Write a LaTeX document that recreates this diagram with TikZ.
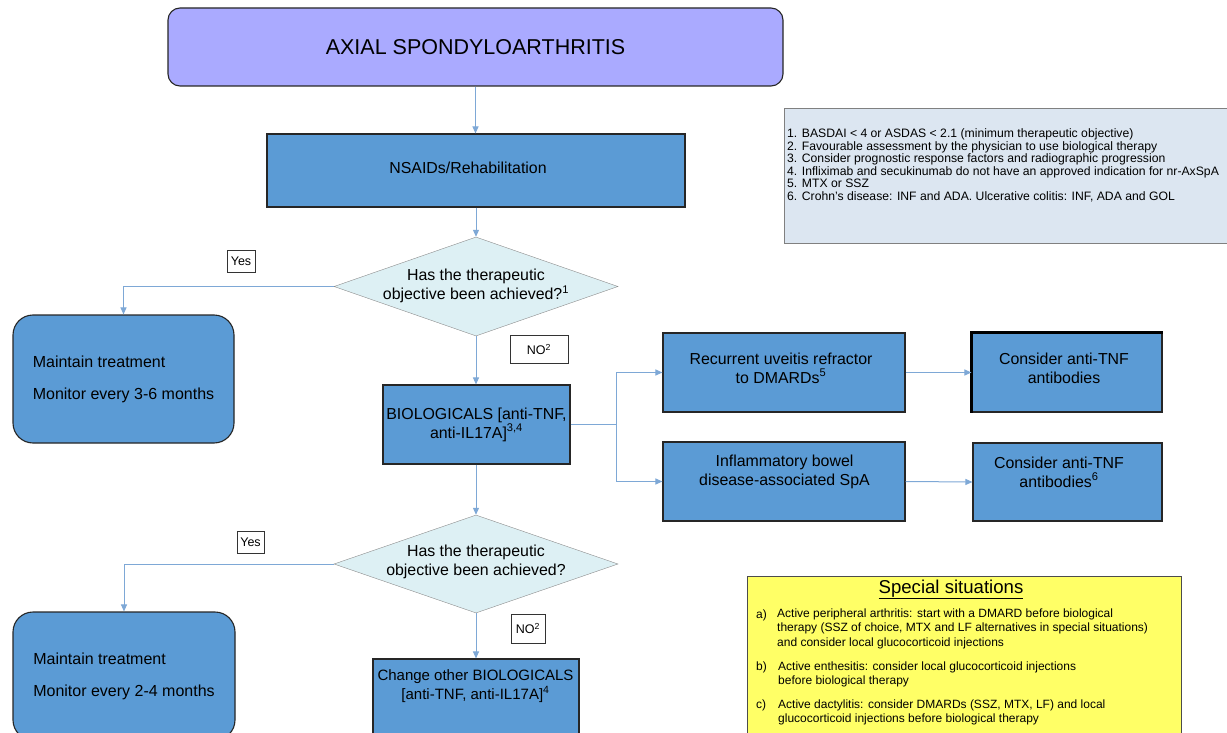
\documentclass[tikz,border=0pt]{standalone}
\usepackage{fontspec}
\setmainfont{Liberation Sans}
\usetikzlibrary{shapes.geometric,arrows.meta}
\definecolor{topfill}{HTML}{AAAAFF}
\definecolor{boxfill}{HTML}{5B9BD5}
\definecolor{askfill}{HTML}{DDF0F4}
\definecolor{notefill}{HTML}{DCE6F1}
\definecolor{specfill}{HTML}{FFFF66}
\definecolor{linkcol}{HTML}{7EA8D6}
\newcommand\boxfont{\fontsize{15.9}{19}\selectfont}
\newcommand\keepfont{\fontsize{16}{32}\selectfont}
\newcommand\tagfont{\fontsize{12.5}{14}\selectfont}
\newcommand\notefont{\fontsize{12.2}{12.6}\selectfont}
\newcommand\specfont{\fontsize{12}{14.6}\selectfont}
\begin{document}
\begin{tikzpicture}[x=1pt,y=-1pt,
  box/.style={draw=black!85, fill=boxfill, line width=1.1pt, inner sep=0pt, align=center, font=\boxfont},
  keepbox/.style={box, rounded corners=20pt, align=left, font=\keepfont},
  ask/.style={diamond, draw=black!45, fill=askfill, inner sep=0pt, minimum width=284pt, minimum height=99pt},
  tag/.style={draw=black!80, fill=white, inner sep=0pt, font=\tagfont},
  txt/.style={inner sep=0pt, align=center, font=\boxfont},
  link/.style={draw=linkcol, line width=1pt, -{Triangle[length=7pt,width=6pt]}}]
\useasboundingbox (0,0) rectangle (1227,733);
\clip (0,0) rectangle (1227,733);
\node[box, fill=topfill, rounded corners=12pt, minimum width=615pt, minimum height=78pt, font=\fontsize{21.5}{24}\selectfont] (axial) at (475.5,47) {AXIAL SPONDYLOARTHRITIS};
\node[box, minimum width=418pt, minimum height=73pt] (nsaid) at (476,170.5) {};
\node[txt] (nsaidtxt) at (468,168) {NSAIDs/Rehabilitation};
\draw[link] (axial.south) -- (axial.south |- nsaid.north);
\node[ask] (q1) at (476,286.5) {};
\node[txt] (q1txt) at (476,286) {Has the therapeutic\\objective been achieved?\textsuperscript{1}};
\draw[link] (nsaid.south -| q1.north) -- (q1.north);
\node[tag, minimum width=28pt, minimum height=22pt] (yes1) at (241,261) {Yes};
\node[tag, minimum width=58pt, minimum height=28pt] (no1) at (539,349.5) {NO\textsuperscript{2}};
\node[keepbox, minimum width=221pt, minimum height=128pt] (keep1) at (123.5,379) {Maintain treatment\\Monitor every 3-6 months};
\draw[link] (q1.west) -| (keep1.north);
\node[box, minimum width=187pt, minimum height=79pt] (bio) at (476.5,424.5) {BIOLOGICALS {[}anti-TNF,\\anti-IL17A{]}\textsuperscript{3,4}};
\draw[link] (q1.south) -- (q1.south |- bio.north);
\node[box, minimum width=242pt, minimum height=79pt] (uveitis) at (784,372.5) {};
\node[txt] (uveitistxt) at (781,368) {Recurrent uveitis refractor\\to DMARDs\textsuperscript{5}};
\node[box, minimum width=242pt, minimum height=79pt] (ibd) at (784,481.5) {};
\node[txt] (ibdtxt) at (784.5,472) {Inflammatory bowel\\disease-associated SpA};
\coordinate (fork) at ([xshift=46pt]bio.east);
\draw[draw=linkcol, line width=1pt] (bio.east) -- (fork);
\draw[link] (fork) |- (uveitis.west);
\draw[link] (fork) |- (ibd.west);
\node[box, minimum width=190pt, minimum height=79pt] (cons1) at (1067,372.5) {};
\draw[line width=2.2pt] (cons1.south west) -- (cons1.north west) -- (cons1.north east);
\node[txt] (cons1txt) at (1064,368) {Consider anti-TNF\\antibodies};
\node[box, minimum width=189pt, minimum height=78pt] (cons2) at (1067.5,482) {};
\node[txt] (cons2txt) at (1059,472) {Consider anti-TNF\\antibodies\textsuperscript{6}};
\draw[link] (uveitis.east) -- (cons1.west);
\draw[link] (ibd.east) -- (cons2.west);
\node[draw=black!50, fill=notefill, line width=0.8pt, minimum width=451pt, minimum height=135pt, inner sep=0pt] (note) at (1009.5,175.5) {};
\node[inner sep=0pt, align=left, font=\notefont, anchor=base west] (notetxt) at (787,200.5) {1. BASDAI < 4 or ASDAS < 2.1 (minimum therapeutic objective)\\2. Favourable assessment by the physician to use biological therapy\\3. Consider prognostic response factors and radiographic progression\\4. Infliximab and secukinumab do not have an approved indication for nr-AxSpA\\5. MTX or SSZ\\6. Crohn’s disease: INF and ADA. Ulcerative colitis: INF, ADA and GOL};
\node[ask, minimum height=98pt] (q2) at (476,564) {};
\node[txt] (q2txt) at (476,562) {Has the therapeutic\\objective been achieved?};
\draw[link] (bio.south -| q2.north) -- (q2.north);
\node[tag, minimum width=27pt, minimum height=22pt] (yes2) at (250.5,542) {Yes};
\node[tag, minimum width=34pt, minimum height=29pt] (no2) at (528,628.5) {NO\textsuperscript{2}};
\node[keepbox, minimum width=222pt, minimum height=128pt] (keep2) at (124,676) {Maintain treatment\\Monitor every 2-4 months};
\draw[link] (q2.west) -| (keep2.north);
\node[box, minimum width=206pt, minimum height=90pt] (change) at (476,704) {};
\node[txt, font=\fontsize{15}{18.5}\selectfont] (changetxt) at (475.5,686) {Change other BIOLOGICALS\\{[}anti-TNF, anti-IL17A{]}\textsuperscript{4}};
\draw[link] (q2.south) -- (q2.south |- change.north);
\node[draw=black!70, fill=specfill, line width=0.8pt, minimum width=434pt, minimum height=170pt, inner sep=0pt] (spec) at (964,661) {};
\node[inner sep=0pt, font=\fontsize{18.6}{22}\selectfont, anchor=base] (spectitle) at (951,593) {\underline{Special situations}};
\node[inner sep=0pt, font=\specfont, anchor=base west] (taga) at (756,618) {a)};
\node[inner sep=0pt, font=\specfont, align=left, anchor=base west] (sita) at (777,646.5) {Active peripheral arthritis: start with a DMARD before biological\\therapy (SSZ of choice, MTX and LF alternatives in special situations)\\and consider local glucocorticoid injections};
\node[inner sep=0pt, font=\specfont, anchor=base west] (tagb) at (756,670) {b)};
\node[inner sep=0pt, font=\specfont, align=left, anchor=base west] (sitb) at (778,684.6) {Active enthesitis: consider local glucocorticoid injections\\before biological therapy};
\node[inner sep=0pt, font=\specfont, anchor=base west] (tagc) at (756,708) {c)};
\node[inner sep=0pt, font=\specfont, align=left, anchor=base west] (sitc) at (778,722.6) {Active dactylitis: consider DMARDs (SSZ, MTX, LF) and local\\glucocorticoid injections before biological therapy};
\end{tikzpicture}
\end{document}
